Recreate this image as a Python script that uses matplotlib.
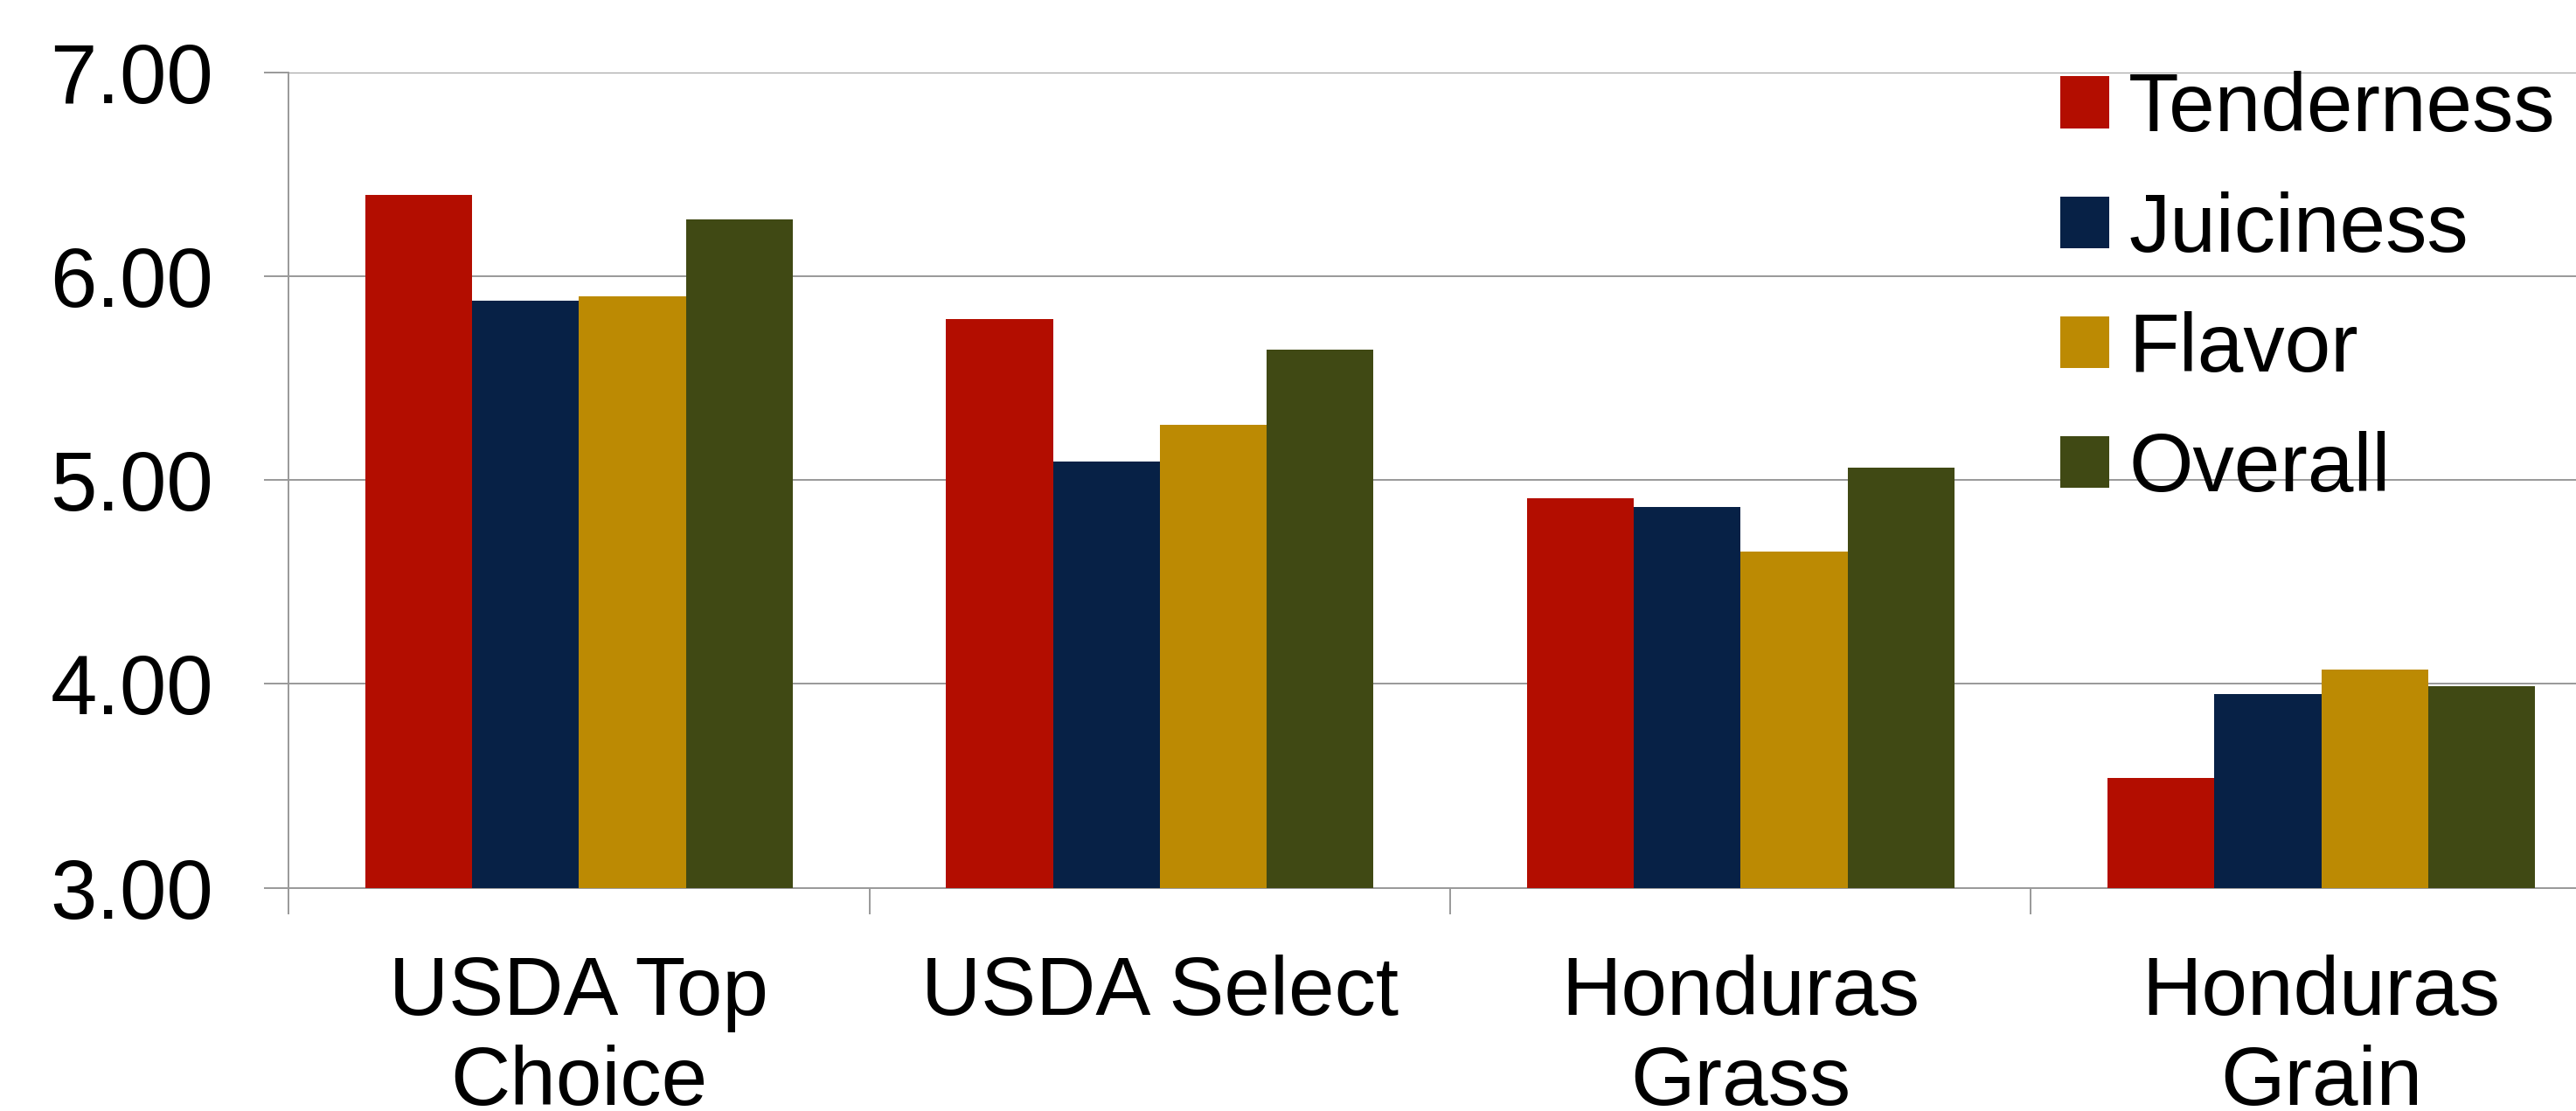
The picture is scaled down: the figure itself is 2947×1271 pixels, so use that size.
import matplotlib
matplotlib.use("Agg")
import matplotlib.pyplot as plt
import numpy as np

categories = ["USDA Top\nChoice", "USDA Select", "Honduras\nGrass", "Honduras\nGrain"]
series = ["Tenderness", "Juiciness", "Flavor", "Overall"]
tenderness = [6.40, 5.79, 4.91, 3.54]
juiciness = [5.88, 5.09, 4.87, 3.95]
flavor = [5.90, 5.27, 4.65, 4.07]
overall = [6.28, 5.64, 5.06, 3.99]
colors = ["#B30D00", "#072146", "#BC8A03", "#404914"]
yticks = [3.0, 4.0, 5.0, 6.0, 7.0]

plt.rcParams['font.family'] = ['Liberation Sans', 'DejaVu Sans']

fig = plt.figure(figsize=(29.47, 12.71), dpi=100)
ax = fig.add_axes([0.112, 0.2009, 1.0139 - 0.112, 0.9349 - 0.2009])

data = [tenderness, juiciness, flavor, overall]
x = np.arange(len(categories))
bw = 0.184
for i, (name, vals, c) in enumerate(zip(series, data, colors)):
    ax.bar(x + (i - 1.5) * bw, vals, width=bw, color=c, label=name, zorder=3)

ax.set_xlim(-0.5, len(categories) - 0.5)
ax.set_ylim(3, 7)
ax.set_yticks(yticks)
ax.set_yticklabels([f"{v:.2f}" for v in yticks])
ax.yaxis.grid(True, color="#999999", linewidth=1.4, zorder=0)
ax.set_axisbelow(True)

# category labels at centers, tick marks at boundaries
ax.set_xticks(x)
ax.set_xticklabels(categories)
ax.set_xticks(np.arange(len(categories) + 1) - 0.5, minor=True)
ax.tick_params(axis='x', which='major', length=0, pad=55, labelsize=68)
ax.tick_params(axis='x', which='minor', length=21.5, width=1.4, color="#999999")
ax.tick_params(axis='y', length=20, width=1.4, color="#999999", pad=42, labelsize=69)

for s in ['top', 'right']:
    ax.spines[s].set_visible(False)
for s in ['left', 'bottom']:
    ax.spines[s].set_color("#999999")
    ax.spines[s].set_linewidth(1.4)

leg = fig.legend(loc='upper left', bbox_to_anchor=(0.7998, 0.9359),
                 frameon=False, fontsize=68, handlelength=0.593, handleheight=0.593,
                 handletextpad=0.233, labelspacing=0.51, borderpad=0, borderaxespad=0)

fig.savefig("out.png", dpi=100)
